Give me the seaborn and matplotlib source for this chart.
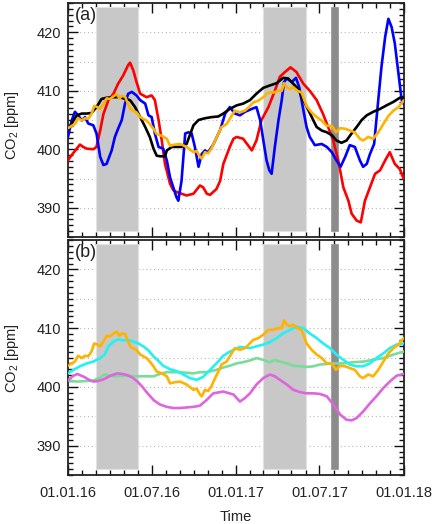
import numpy as np
import pandas as pd
import matplotlib
matplotlib.use("Agg")
import matplotlib.pyplot as plt
import matplotlib.dates as mdates
import seaborn as sns

# ---- data: days after 01.01.2016 and CO2 mole fractions [ppm] ----
red_days = [0, 8, 26, 33, 41, 55, 62, 70, 77, 88, 99, 109, 120, 131, 135, 142, 149, 157, 171, 182,
            189, 197, 204, 211, 222, 229, 236, 247, 258, 273, 287, 294, 302, 309, 316, 323, 331, 338, 352, 360,
            367, 381, 400, 410, 421, 436, 450, 461, 472, 484, 497, 512, 526, 541, 555, 566, 577, 588, 599, 610,
            617, 628, 637, 646, 657, 668, 679, 690, 700, 711, 722, 730]
red_vals = [398.1, 399.0, 400.8, 400.4, 400.1, 400.0, 400.4, 403.2, 406.0, 408.4, 409.5, 411.2, 412.6, 414.4, 414.8, 413.5, 411.5, 409.5, 408.9, 409.2,
            408.4, 405.0, 401.5, 397.5, 394.1, 393.0, 392.7, 392.4, 392.1, 392.4, 393.8, 393.5, 392.4, 392.2, 392.7, 393.2, 394.6, 397.5, 400.4, 401.8,
            402.1, 401.8, 399.8, 401.5, 405.0, 407.2, 410.0, 412.4, 413.2, 414.0, 413.2, 411.2, 410.0, 408.4, 406.0, 403.8, 401.5, 398.1, 393.5, 391.2,
            389.0, 387.8, 387.5, 391.2, 393.5, 395.8, 396.4, 398.1, 399.5, 397.5, 396.6, 395.0]

blue_days = [0, 8, 15, 22, 30, 37, 44, 55, 62, 70, 77, 84, 95, 102, 109, 117, 124, 131, 139, 149,
             157, 168, 175, 182, 189, 197, 207, 215, 222, 229, 236, 240, 247, 255, 262, 269, 276, 284, 291, 298,
             305, 316, 331, 342, 352, 363, 374, 385, 400, 410, 418, 425, 432, 438, 443, 450, 458, 465, 470, 476,
             487, 496, 503, 512, 519, 526, 537, 552, 563, 574, 584, 593, 603, 613, 624, 635, 642, 650, 657, 666,
             675, 682, 690, 697, 704, 711, 719, 726, 730]
blue_vals = [402.1, 404.9, 406.4, 405.8, 404.9, 405.5, 404.4, 404.1, 402.7, 398.7, 397.3, 397.5, 399.8, 402.1, 403.5, 405.0, 407.8, 409.5, 409.8, 409.2,
             408.4, 407.8, 405.8, 405.5, 402.7, 400.4, 400.1, 398.1, 395.2, 393.5, 391.8, 391.2, 394.6, 402.7, 402.9, 402.7, 400.4, 397.0, 399.2, 399.8,
             399.5, 400.8, 403.3, 406.1, 407.2, 406.1, 405.8, 406.4, 406.9, 407.2, 405.0, 401.5, 398.1, 396.4, 395.8, 400.4, 405.0, 408.4, 411.5, 412.1,
             411.5, 412.2, 410.6, 406.7, 403.8, 402.1, 400.7, 400.9, 400.4, 399.5, 398.1, 397.0, 398.7, 400.7, 400.4, 398.1, 397.0, 397.5, 399.2, 400.9,
             408.4, 414.1, 419.2, 422.3, 420.9, 418.1, 412.9, 408.4, 407.8]

black_days = [0, 8, 19, 30, 41, 51, 62, 73, 84, 99, 113, 124, 135, 146, 157, 168, 178, 186, 193, 200,
              211, 215, 226, 236, 247, 258, 265, 273, 284, 298, 313, 327, 338, 352, 367, 381, 396, 410, 425, 439,
              454, 468, 479, 490, 501, 512, 523, 534, 541, 552, 563, 574, 584, 595, 606, 617, 628, 639, 650, 664,
              679, 693, 708, 722, 730]
black_vals = [403.5, 404.4, 405.8, 406.1, 406.1, 406.2, 407.2, 408.6, 408.8, 408.9, 408.9, 408.6, 408.4, 407.2, 405.5, 403.8, 402.1, 400.1, 398.9, 398.8,
              398.8, 399.8, 400.4, 400.4, 400.4, 400.9, 402.4, 404.1, 405.0, 405.3, 405.5, 405.6, 406.1, 406.9, 407.5, 407.8, 408.4, 409.5, 410.5, 410.9,
              411.3, 412.2, 412.1, 411.2, 410.3, 408.4, 406.7, 404.9, 403.8, 403.2, 402.9, 402.4, 401.5, 401.1, 401.5, 402.7, 403.8, 405.0, 405.8, 406.4,
              406.9, 407.5, 408.1, 408.8, 408.9]

orange_days = [0, 8, 15, 22, 30, 37, 44, 51, 57, 64, 70, 77, 84, 91, 100, 106, 112, 117, 124, 131,
               136, 149, 157, 164, 171, 178, 186, 193, 204, 215, 222, 233, 244, 258, 273, 280, 287, 291, 298, 305,
               312, 320, 327, 334, 345, 352, 363, 374, 385, 392, 403, 414, 425, 436, 447, 458, 465, 470, 476, 483,
               490, 499, 508, 519, 530, 541, 552, 563, 574, 583, 592, 603, 613, 624, 635, 642, 653, 664, 675, 686,
               697, 708, 719, 730]
orange_vals = [403.6, 404.0, 404.3, 405.3, 404.9, 405.3, 405.2, 406.0, 407.4, 407.2, 406.9, 407.7, 408.7, 408.6, 409.1, 409.4, 408.7, 409.1, 409.0, 407.7,
               406.8, 406.3, 405.5, 405.2, 404.9, 404.3, 403.5, 402.6, 402.3, 401.8, 400.6, 400.8, 400.9, 400.4, 399.5, 399.7, 398.7, 398.4, 399.5, 399.3,
               400.1, 401.5, 402.6, 403.8, 404.3, 405.2, 406.6, 406.3, 406.6, 407.1, 408.0, 408.3, 408.9, 409.7, 409.7, 410.0, 410.0, 411.3, 410.6, 410.3,
               410.6, 410.0, 409.7, 407.4, 406.3, 405.5, 404.9, 404.0, 404.0, 402.9, 403.6, 403.5, 403.2, 402.9, 401.8, 401.5, 402.1, 401.8, 402.9, 404.3,
               405.7, 406.6, 407.2, 408.3]

cyan_days = [0, 12, 26, 41, 55, 70, 80, 88, 99, 109, 120, 131, 142, 153, 164, 175, 186, 197, 207, 222,
             236, 251, 265, 280, 294, 309, 323, 338, 352, 374, 396, 410, 425, 439, 454, 468, 483, 497, 512, 526,
             541, 555, 570, 584, 599, 613, 628, 642, 657, 671, 686, 700, 715, 730]
cyan_vals = [402.3, 402.9, 403.5, 404.0, 404.3, 404.9, 405.5, 406.9, 407.7, 408.1, 407.9, 408.0, 407.7, 407.4, 406.9, 406.2, 405.2, 404.4, 403.6, 403.0,
             402.7, 402.1, 401.5, 401.2, 401.7, 402.9, 404.0, 405.3, 406.0, 406.8, 406.6, 406.9, 407.2, 407.6, 408.3, 409.1, 409.7, 410.2, 410.0, 409.1,
             408.3, 407.4, 406.6, 405.5, 404.6, 403.8, 403.5, 403.5, 404.0, 404.9, 405.7, 406.6, 407.2, 407.4]

green_days = [0, 20, 40, 56, 70, 79, 90, 100, 122, 151, 172, 186, 200, 215, 229, 244, 258, 273, 287, 302,
              323, 338, 352, 367, 381, 396, 410, 425, 439, 450, 461, 476, 490, 505, 519, 534, 548, 563, 577, 599,
              621, 642, 664, 686, 708, 730]
green_vals = [401.1, 400.9, 401.0, 401.1, 401.6, 402.1, 401.9, 401.8, 401.9, 401.8, 401.8, 401.8, 402.2, 402.5, 402.5, 402.5, 402.4, 402.3, 402.5, 402.5,
              402.9, 403.3, 403.6, 404.0, 404.2, 404.5, 404.9, 404.6, 404.2, 404.6, 404.3, 404.0, 403.6, 403.5, 403.4, 403.5, 403.8, 403.9, 404.0, 404.0,
              404.2, 404.3, 404.6, 404.9, 405.5, 406.0]

violet_days = [0, 10, 20, 35, 48, 56, 66, 78, 92, 107, 118, 129, 140, 151, 162, 172, 187, 200, 215, 229,
               244, 258, 273, 287, 302, 316, 338, 360, 374, 385, 396, 410, 425, 439, 450, 461, 476, 490, 505, 519,
               534, 548, 563, 577, 592, 606, 617, 628, 642, 657, 671, 686, 700, 715, 730]
violet_vals = [401.1, 401.8, 402.2, 401.7, 401.1, 400.9, 401.0, 401.3, 401.9, 402.3, 402.2, 402.0, 401.6, 400.9, 400.0, 399.0, 397.7, 397.0, 396.6, 396.4,
               396.4, 396.5, 396.6, 396.8, 397.8, 398.9, 399.2, 398.7, 397.5, 398.1, 398.9, 400.4, 401.5, 402.1, 401.8, 401.2, 400.4, 399.5, 399.1, 398.9,
               398.9, 398.8, 398.4, 397.0, 395.3, 394.4, 394.3, 394.7, 395.8, 397.2, 398.4, 399.8, 400.9, 401.9, 402.2]

# shaded periods (start, end)
spring_periods = [("2016-03-01", "2016-06-01"), ("2017-03-01", "2017-06-01")]
event_period = ("2017-07-26", "2017-08-10")

xtick_dates = ["2016-01-01", "2016-07-01", "2017-01-01", "2017-07-01", "2018-01-01"]
ytick_vals = [390, 400, 410, 420]

START = pd.Timestamp("2016-01-01")


def series(days, vals):
    return pd.DataFrame({"date": START + pd.to_timedelta(days, unit="D"), "co2": vals})


panel_a = [(red_days, red_vals, "#ff0000"),
           (blue_days, blue_vals, "#0000ff"),
           (black_days, black_vals, "#000000"),
           (orange_days, orange_vals, "#ffb300")]
panel_b = [(green_days, green_vals, "#77dd99"),
           (violet_days, violet_vals, "#dd66dd"),
           (cyan_days, cyan_vals, "#22f2f2"),
           (orange_days, orange_vals, "#ffb300")]

sns.set_style("ticks")
plt.rcParams["font.family"] = ["Liberation Sans", "DejaVu Sans"]
plt.rcParams["mathtext.fontset"] = "custom"
plt.rcParams["mathtext.rm"] = "Liberation Sans"
plt.rcParams["mathtext.it"] = "Liberation Sans:italic"

fig = plt.figure(figsize=(4.36, 5.24), dpi=100)
W, H = 436.0, 524.0
ax_a = fig.add_axes([68 / W, 1 - 237 / H, 336 / W, 234 / H])
ax_b = fig.add_axes([68 / W, 1 - 475 / H, 336 / W, 235 / H])

for ax, lines, tag in [(ax_a, panel_a, "(a)"), (ax_b, panel_b, "(b)")]:
    ax.set_xlim(START, pd.Timestamp("2018-01-01"))
    ax.set_ylim(385, 425)
    for v in range(390, 425, 5):
        ax.axhline(v, color="#b8b8b8", lw=0.8, ls=(0, (1, 2.5)), zorder=0)
    for s, e in spring_periods:
        ax.axvspan(pd.Timestamp(s), pd.Timestamp(e), ymin=0.027, ymax=0.983,
                   facecolor="#c8c8c8", edgecolor="#e2e2e2", lw=0.8, zorder=1)
    ax.axvspan(pd.Timestamp(event_period[0]), pd.Timestamp(event_period[1]), ymin=0.027, ymax=0.983,
               facecolor="#8c8c8c", edgecolor="#9a9a9a", lw=0.6, zorder=1)
    for d, v, c in lines:
        sns.lineplot(data=series(d, v), x="date", y="co2", color=c, lw=1.9,
                     ax=ax, legend=False, zorder=3)
    ax.set_xlabel("")
    ax.set_ylabel("")
    ax.set_yticks(ytick_vals)
    ax.yaxis.set_minor_locator(matplotlib.ticker.MultipleLocator(1))
    ax.set_xticks([pd.Timestamp(t) for t in xtick_dates])
    ax.xaxis.set_minor_locator(mdates.MonthLocator())
    ax.xaxis.set_major_formatter(mdates.DateFormatter("%d.%m.%y"))
    ax.tick_params(which="both", direction="in", top=True, right=True, width=1.0, colors="#111111",
                   labelsize=10.5, labelcolor="#222222")
    ax.tick_params(which="major", length=7, pad=5)
    ax.tick_params(which="minor", length=3.5)
    for sp in ax.spines.values():
        sp.set_linewidth(1.3)
        sp.set_color("#222222")
    ax.text(0.02, 0.982, tag, transform=ax.transAxes, ha="left", va="top", fontsize=13, color="#222222")

ax_a.tick_params(labelbottom=False)
ax_b.tick_params(axis="x", pad=8)

fig.text(12 / W, 1 - 125 / H, "CO$_2$ [ppm]", rotation=90, ha="center", va="center", fontsize=10.5, color="#222222")
fig.text(12 / W, 1 - 358 / H, "CO$_2$ [ppm]", rotation=90, ha="center", va="center", fontsize=10.5, color="#222222")
fig.text(236 / W, 1 - 517 / H, "Time", ha="center", va="center", fontsize=10.5, color="#222222")

fig.savefig("out.png", dpi=100)
